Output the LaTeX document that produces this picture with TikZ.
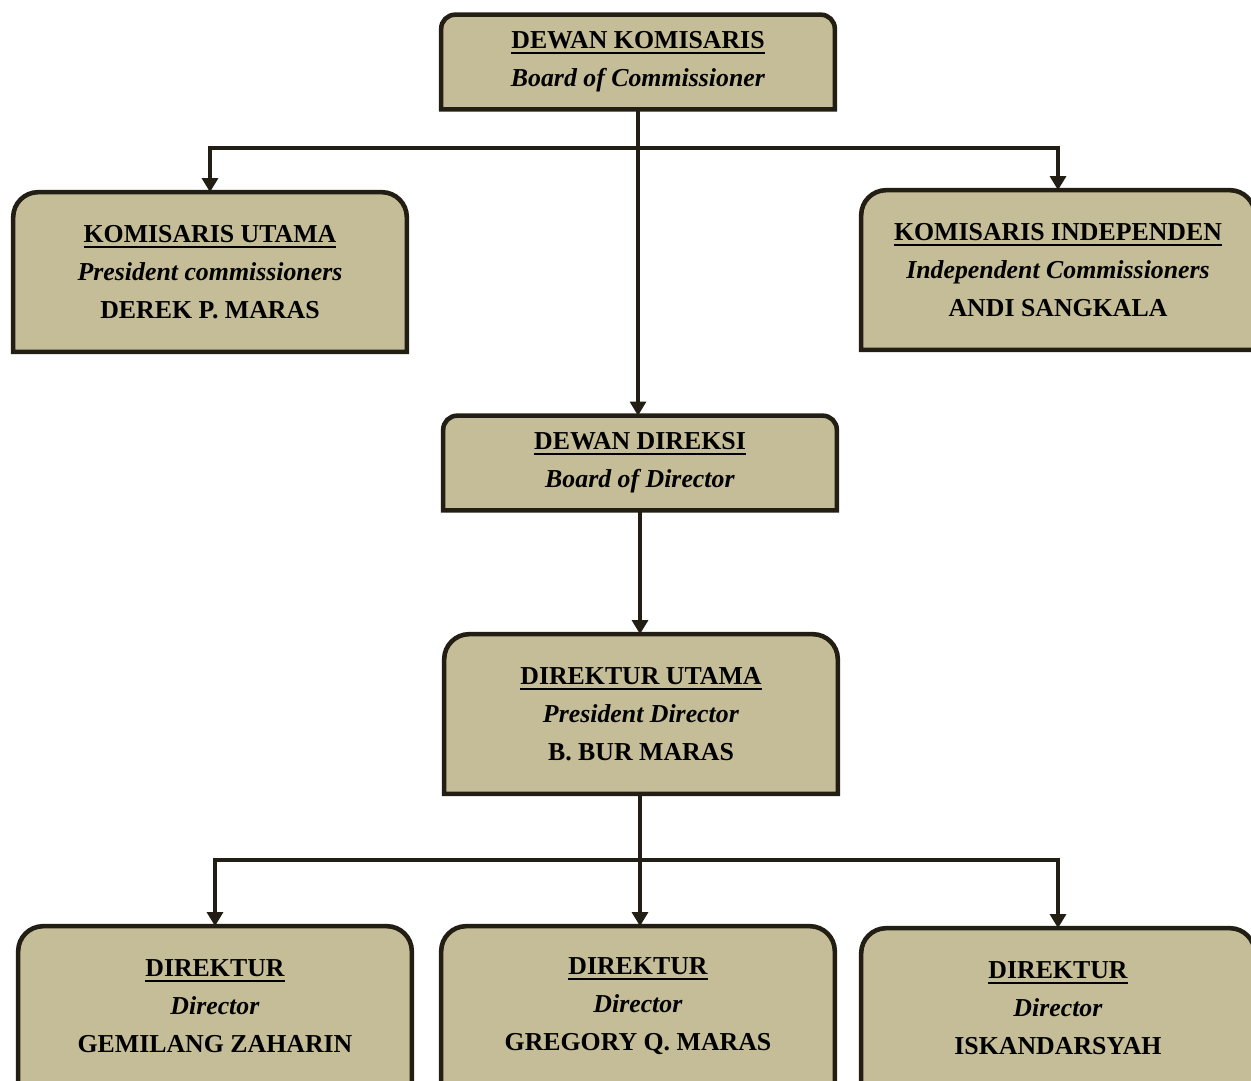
\documentclass[tikz,border=0pt]{standalone}
\usepackage{fontspec}
\setmainfont{Liberation Serif}
\usepackage{xcolor}
\usetikzlibrary{arrows.meta}
\usetikzlibrary{backgrounds}

\definecolor{boxtan}{HTML}{C4BD97}
\definecolor{boxedge}{HTML}{221E14}
\newcommand{\titleline}[1]{\setbox0\hbox{#1}\rlap{\rule[-3pt]{\wd0}{1.1pt}}\box0}

\begin{document}
\begin{tikzpicture}[x=0.02cm, y=-0.02cm]
\tikzstyle{orgtext}=[align=center, inner sep=0pt, minimum width=7.86cm, font=\fontsize{14.7}{21.6}\selectfont\bfseries]
\tikzstyle{twoline}=[orgtext, minimum height=1.88cm]
\tikzstyle{threeline}=[orgtext, minimum height=3.18cm]
\tikzstyle{boxshape}=[draw=boxedge, fill=boxtan, line width=2.6pt]
\tikzstyle{link}=[draw=boxedge, line width=2pt]
\tikzstyle{linkarrow}=[link, -{Triangle[width=9pt,length=8pt]}]

\useasboundingbox (0,0) rectangle (1251,1080);
\clip (0,0) rectangle (1251,1080);

% Commissioners
\node[twoline] (dk) at (638, 62) {\titleline{DEWAN KOMISARIS}\\ \textit{Board of Commissioner}};
\node[threeline] (ku) at (210, 272) {\titleline{KOMISARIS UTAMA}\\ \textit{President commissioners}\\ DEREK P. MARAS};
\node[threeline] (ki) at (1058, 270) {\titleline{KOMISARIS INDEPENDEN}\\ \textit{Independent Commissioners}\\ ANDI SANGKALA};

% Directors
\node[twoline] (dd) at (640, 463) {\titleline{DEWAN DIREKSI}\\ \textit{Board of Director}};
\node[threeline] (du) at (641, 714) {\titleline{DIREKTUR UTAMA}\\ \textit{President Director}\\ B. BUR MARAS};
\node[threeline] (d1) at (215, 1006) {\titleline{DIREKTUR}\\ \textit{Director}\\ GEMILANG ZAHARIN};
\node[threeline] (d2) at (638, 1006) {\titleline{DIREKTUR}\\ \textit{Director}\\ GREGORY Q. MARAS};
\node[threeline] (d3) at (1058, 1008) {\titleline{DIREKTUR}\\ \textit{Director}\\ ISKANDARSYAH};

\begin{scope}[on background layer]
\foreach \n/\r in {dk/0.28, ku/0.5, ki/0.5, dd/0.28, du/0.5, d1/0.5, d2/0.5, d3/0.5}
  \path[boxshape] [rounded corners=\r cm] (\n.south west) -- (\n.north west) -- (\n.north east) [sharp corners] -- (\n.south east) -- cycle;
\end{scope}

\coordinate (split-top) at (638, 148);
\coordinate (split-bottom) at (640, 860);

\path[linkarrow] (dk.south) -- (dk.south |- dd.north);
\path[linkarrow] (split-top) -| (ku.north);
\path[linkarrow] (split-top) -| (ki.north);

\path[linkarrow] (dd.south) -- (dd.south |- du.north);
\path[link] (dd.south |- du.south) -- (split-bottom);
\path[linkarrow] (split-bottom) -| (d1.north);
\path[linkarrow] (split-bottom) -| (d3.north);
\path[linkarrow] (split-bottom) -- (split-bottom |- d2.north);
\end{tikzpicture}
\end{document}
